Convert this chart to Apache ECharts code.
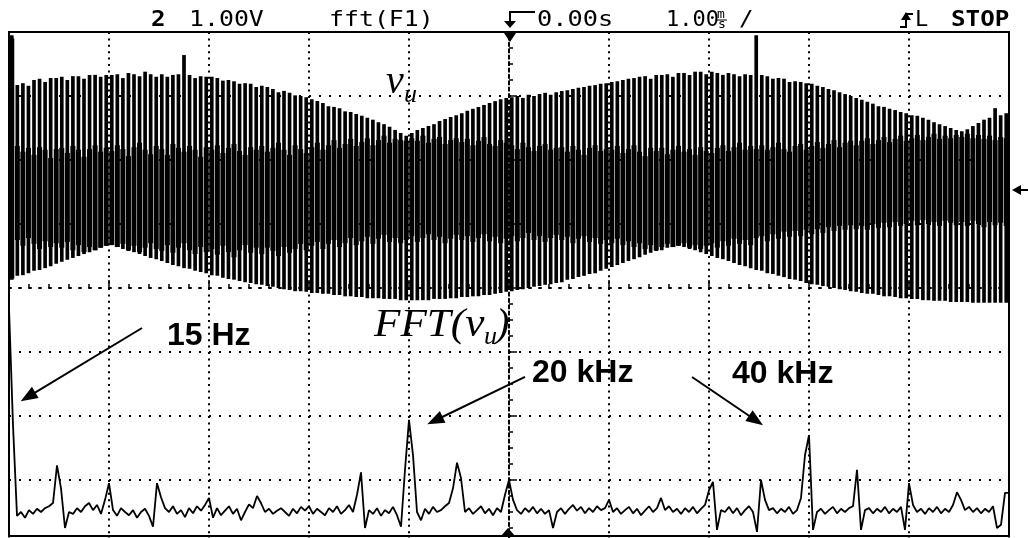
<!DOCTYPE html>
<html>
<head>
<meta charset="utf-8">
<script src="https://cdn.jsdelivr.net/npm/echarts@6/dist/echarts.min.js"></script>
<style>
  html, body { margin: 0; padding: 0; background: #fff; overflow: hidden; }
  #scope { width: 1028px; height: 546px; }
</style>
</head>
<body>
<div id="scope"></div>
<script>
// ---- Channel 2 trace (1.00 V/div, 1.00 ms/div): one stripe per PWM period ----
// upper tip of each stripe [V]
const vTop = [
  3.95, 3.17, 3.20, 3.16, 3.25, 3.27, 3.22, 3.28, 3.28,
  3.30, 3.25, 3.31, 3.31, 3.27, 3.33, 3.33, 3.30, 3.33,
  3.33, 3.34, 3.28, 3.36, 3.34, 3.31, 3.38, 3.34, 3.30,
  3.34, 3.30, 3.33, 3.34, 3.64, 3.33, 3.28, 3.31, 3.30,
  3.30, 3.28, 3.24, 3.25, 3.23, 3.19, 3.20, 3.19, 3.14,
  3.16, 3.14, 3.11, 3.06, 3.08, 3.05, 3.01, 3.00, 2.98,
  2.95, 2.92, 2.89, 2.84, 2.83, 2.81, 2.76, 2.75, 2.72,
  2.69, 2.66, 2.63, 2.59, 2.56, 2.52, 2.47, 2.42, 2.38,
  2.42, 2.47, 2.50, 2.53, 2.56, 2.61, 2.64, 2.67, 2.70,
  2.73, 2.77, 2.80, 2.83, 2.86, 2.89, 2.92, 2.95, 2.97,
  2.98, 3.00, 2.97, 3.02, 3.00, 3.03, 3.05, 3.02, 3.06,
  3.08, 3.09, 3.11, 3.13, 3.14, 3.16, 3.17, 3.19, 3.20,
  3.22, 3.23, 3.25, 3.27, 3.28, 3.30, 3.31, 3.27, 3.33,
  3.33, 3.34, 3.30, 3.36, 3.36, 3.33, 3.38, 3.38, 3.34,
  3.38, 3.36, 3.33, 3.36, 3.34, 3.31, 3.34, 3.33, 3.95,
  3.33, 3.31, 3.27, 3.28, 3.27, 3.22, 3.23, 3.22, 3.20,
  3.19, 3.16, 3.14, 3.11, 3.09, 3.06, 3.03, 3.00, 2.97,
  2.94, 2.91, 2.88, 2.84, 2.83, 2.80, 2.78, 2.75, 2.73,
  2.70, 2.69, 2.66, 2.63, 2.59, 2.56, 2.53, 2.50, 2.47,
  2.45, 2.48, 2.53, 2.58, 2.63, 2.66, 2.81, 2.70, 2.73
];
// lower tip of each stripe [V]
const vBot = [
  0.13, 0.19, 0.20, 0.23, 0.27, 0.28, 0.31, 0.34, 0.38,
  0.41, 0.44, 0.47, 0.50, 0.53, 0.56, 0.59, 0.63, 0.66,
  0.67, 0.64, 0.61, 0.58, 0.56, 0.53, 0.50, 0.47, 0.45,
  0.42, 0.39, 0.36, 0.34, 0.31, 0.30, 0.27, 0.25, 0.23,
  0.20, 0.19, 0.16, 0.14, 0.13, 0.11, 0.09, 0.08, 0.06,
  0.05, 0.03, 0.02, 0.00, -0.02, -0.03, -0.05, -0.05, -0.06,
  -0.08, -0.08, -0.09, -0.09, -0.11, -0.11, -0.13, -0.13, -0.14,
  -0.14, -0.16, -0.16, -0.16, -0.17, -0.17, -0.17, -0.19, -0.19,
  -0.19, -0.19, -0.19, -0.19, -0.17, -0.17, -0.17, -0.16, -0.16,
  -0.14, -0.14, -0.13, -0.13, -0.11, -0.11, -0.09, -0.08, -0.06,
  -0.05, -0.03, -0.02, 0.00, 0.02, 0.03, 0.05, 0.06, 0.08,
  0.09, 0.13, 0.14, 0.17, 0.19, 0.22, 0.23, 0.27, 0.30,
  0.33, 0.36, 0.39, 0.42, 0.45, 0.48, 0.52, 0.55, 0.58,
  0.59, 0.63, 0.64, 0.66, 0.64, 0.61, 0.59, 0.56, 0.53,
  0.50, 0.47, 0.45, 0.42, 0.39, 0.36, 0.34, 0.31, 0.28,
  0.27, 0.23, 0.22, 0.19, 0.17, 0.14, 0.13, 0.11, 0.08,
  0.06, 0.05, 0.03, 0.02, 0.00, -0.02, -0.03, -0.05, -0.06,
  -0.08, -0.09, -0.09, -0.11, -0.13, -0.13, -0.14, -0.16, -0.16,
  -0.17, -0.17, -0.19, -0.19, -0.20, -0.20, -0.20, -0.22, -0.22,
  -0.22, -0.22, -0.23, -0.23, -0.23, -0.23, -0.23, -0.23, -0.23
];
// upper edge of the dense (overlapping) part of each stripe [V]
const vBandHi = [
  3.90, 2.22, 2.13, 2.19, 2.08, 2.20, 2.16, 2.03, 2.17,
  2.19, 2.11, 2.22, 2.16, 2.05, 2.17, 2.23, 2.13, 2.19,
  2.14, 2.23, 2.17, 2.06, 2.20, 2.27, 2.16, 2.09, 2.22,
  2.17, 2.08, 2.25, 2.19, 2.13, 2.22, 2.16, 2.05, 2.20,
  2.16, 2.23, 2.11, 2.19, 2.25, 2.14, 2.08, 2.20, 2.16,
  2.22, 2.13, 2.19, 2.27, 2.16, 2.08, 2.23, 2.17, 2.11,
  2.20, 2.27, 2.16, 2.23, 2.31, 2.19, 2.25, 2.33, 2.22,
  2.28, 2.34, 2.23, 2.31, 2.38, 2.27, 2.33, 2.31, 2.30,
  2.34, 2.30, 2.38, 2.27, 2.33, 2.36, 2.25, 2.31, 2.34,
  2.28, 2.33, 2.23, 2.30, 2.36, 2.25, 2.22, 2.31, 2.27,
  2.23, 2.17, 2.27, 2.20, 2.14, 2.22, 2.25, 2.16, 2.19,
  2.20, 2.13, 2.22, 2.16, 2.08, 2.19, 2.23, 2.14, 2.17,
  2.16, 2.22, 2.11, 2.17, 2.23, 2.13, 2.06, 2.19, 2.14,
  2.19, 2.09, 2.16, 2.22, 2.13, 2.17, 2.08, 2.20, 2.14,
  2.11, 2.19, 2.23, 2.14, 2.20, 2.27, 2.16, 2.22, 2.17,
  2.23, 2.16, 2.20, 2.27, 2.17, 2.13, 2.22, 2.25, 2.16,
  2.22, 2.28, 2.19, 2.25, 2.31, 2.20, 2.27, 2.30, 2.23,
  2.30, 2.34, 2.25, 2.31, 2.36, 2.28, 2.33, 2.38, 2.30,
  2.34, 2.39, 2.31, 2.36, 2.41, 2.33, 2.38, 2.34, 2.39,
  2.36, 2.41, 2.34, 2.39, 2.33, 2.38, 2.31, 2.36, 2.34
];
// lower edge of the dense part of each stripe [V]
const vBandLo = [
  0.15, 0.75, 0.66, 0.78, 0.69, 0.61, 0.73, 0.64, 0.70,
  0.63, 0.72, 0.59, 0.67, 0.56, 0.64, 0.59, 0.63, 0.66,
  0.67, 0.64, 0.69, 0.59, 0.66, 0.56, 0.63, 0.70, 0.61,
  0.58, 0.67, 0.55, 0.63, 0.70, 0.59, 0.53, 0.64, 0.56,
  0.61, 0.52, 0.66, 0.56, 0.48, 0.59, 0.67, 0.55, 0.63,
  0.53, 0.63, 0.58, 0.50, 0.64, 0.55, 0.61, 0.69, 0.59,
  0.66, 0.72, 0.61, 0.69, 0.75, 0.64, 0.70, 0.78, 0.67,
  0.73, 0.80, 0.69, 0.77, 0.83, 0.72, 0.78, 0.70, 0.75,
  0.81, 0.72, 0.78, 0.84, 0.75, 0.80, 0.70, 0.77, 0.83,
  0.75, 0.81, 0.72, 0.78, 0.84, 0.73, 0.80, 0.70, 0.77,
  0.81, 0.73, 0.78, 0.86, 0.75, 0.81, 0.72, 0.78, 0.83,
  0.75, 0.80, 0.70, 0.77, 0.81, 0.72, 0.78, 0.69, 0.75,
  0.70, 0.77, 0.67, 0.73, 0.64, 0.70, 0.61, 0.67, 0.59,
  0.64, 0.69, 0.64, 0.66, 0.70, 0.63, 0.67, 0.61, 0.66,
  0.70, 0.63, 0.73, 0.66, 0.77, 0.69, 0.75, 0.67, 0.78,
  0.81, 0.73, 0.84, 0.77, 0.88, 0.80, 0.89, 0.81, 0.91,
  0.84, 0.92, 0.86, 0.95, 0.89, 0.97, 0.91, 0.98, 0.92,
  0.97, 0.91, 1.00, 0.94, 1.02, 0.95, 1.03, 0.97, 1.00,
  1.05, 0.98, 1.06, 1.00, 1.03, 0.97, 1.05, 1.02, 0.98,
  1.03, 0.97, 1.05, 1.00, 0.95, 1.03, 0.98, 1.02, 0.97
];

// ---- fft(F1): magnitude per 0.2 kHz bin, 0 ... 50 kHz [dB, 10 dB/div] ----
const fftBinKHz = 0.2;
const fftDb = [
  -3.1, -21.4, -35.6, -35.0, -35.9, -34.7, -35.3, -34.5, -35.0, -34.4,
  -34.1, -33.6, -27.7, -31.3, -37.5, -35.0, -35.3, -34.4, -35.0, -34.1,
  -33.6, -34.7, -33.9, -35.3, -33.1, -30.5, -34.7, -35.6, -34.4, -35.0,
  -35.5, -34.7, -35.9, -35.0, -34.5, -35.6, -37.3, -30.5, -32.7, -34.4,
  -35.0, -34.1, -35.3, -34.7, -35.8, -34.4, -35.2, -34.1, -34.8, -33.9,
  -32.8, -35.9, -34.4, -35.5, -34.8, -34.1, -35.3, -34.5, -36.3, -35.0,
  -33.8, -34.4, -32.5, -33.6, -35.0, -34.5, -35.3, -34.8, -34.4, -35.0,
  -35.6, -34.5, -35.2, -34.2, -34.8, -34.1, -35.3, -34.5, -35.0, -35.5,
  -34.4, -35.0, -34.1, -35.3, -34.7, -33.9, -35.0, -32.3, -28.8, -37.5,
  -34.7, -35.3, -34.4, -35.6, -34.7, -35.2, -34.2, -35.5, -37.3, -28.4,
  -20.6, -26.1, -35.0, -36.3, -34.5, -35.3, -34.2, -35.0, -34.7, -34.1,
  -33.6, -31.3, -27.3, -29.7, -35.0, -34.4, -35.3, -34.7, -34.1, -35.2,
  -34.5, -35.5, -34.4, -35.0, -32.3, -30.0, -33.1, -34.7, -35.3, -34.4,
  -35.0, -34.2, -35.2, -34.5, -35.3, -34.7, -37.5, -35.0, -34.4, -35.3,
  -34.5, -33.9, -34.8, -34.2, -35.2, -34.4, -35.0, -34.1, -34.7, -34.4,
  -33.1, -35.0, -34.4, -35.3, -34.7, -34.2, -35.2, -34.5, -35.5, -34.8,
  -34.1, -35.0, -34.4, -32.8, -34.7, -34.1, -35.0, -34.5, -35.3, -34.4,
  -35.0, -34.2, -35.2, -34.5, -33.9, -31.6, -30.3, -37.8, -34.7, -35.0,
  -34.2, -35.2, -34.4, -35.5, -34.7, -34.1, -35.0, -38.1, -30.0, -33.1,
  -34.7, -34.4, -35.2, -34.5, -35.0, -34.2, -35.3, -34.7, -32.8, -26.1,
  -23.0, -37.8, -35.0, -34.5, -35.3, -34.7, -34.2, -35.2, -34.5, -35.0,
  -34.4, -34.1, -28.4, -37.8, -34.7, -34.4, -35.2, -34.5, -35.0, -34.2,
  -35.2, -34.5, -35.0, -34.2, -37.8, -30.5, -33.9, -35.0, -34.5, -35.3,
  -34.4, -35.0, -34.2, -35.2, -34.5, -35.0, -33.9, -31.9, -33.1, -34.7,
  -34.2, -35.0, -34.4, -35.2, -34.5, -35.0, -34.1, -37.5, -37.0, -32.0,
  -32.0
];

// callout arrows on the spectrum: [kHz, dB] from tail to head
const callouts = [
  { from: [6.65, -6.25], to: [0.95, -17.0] },   // 15 Hz
  { from: [25.8, -13.9], to: [21.3, -20.7] },   // 20 kHz
  { from: [34.15, -13.9], to: [37.35, -20.7] }  // 40 kHz
];

// [slot, band low, band high, stripe bottom, stripe top]
const stripes = vTop.map((t, i) => [i, vBandLo[i], vBandHi[i], vBot[i], t]);
const stripeIdx = vTop.map((_, i) => i);
const spectrum = fftDb.map((d, i) => [+(i * fftBinKHz).toFixed(1), d]);

const INK = '#000';
const MONO = '"DejaVu Sans Mono", monospace';
const SERIF = '"Liberation Serif", "Times New Roman", serif';
const SANS = '"Liberation Sans", Arial, sans-serif';

function txt(text, x, y, o) {
  o = o || {};
  return {
    type: 'text', x: x, y: y, z: 200,
    scaleX: o.sx || 1, scaleY: o.sy || 1,
    style: {
      text: text, x: 0, y: 0,
      fontFamily: o.family || MONO,
      fontSize: o.size || 22,
      fontWeight: o.weight || 'normal',
      fontStyle: o.style || 'normal',
      fill: INK,
      textAlign: 'left', align: 'left',
      textVerticalAlign: 'middle', verticalAlign: 'middle'
    }
  };
}

// one PWM stripe: full-height line plus a wider dense core
function renderStripe(params, api) {
  const slot = api.value(0);
  const top = api.coord([slot, api.value(4)]);
  const bot = api.coord([slot, api.value(3)]);
  const hi = api.coord([slot, api.value(2)]);
  const lo = api.coord([slot, api.value(1)]);
  const band = api.size([1, 0])[0];
  const thin = band * 0.66;
  const core = band * 0.9;
  return {
    type: 'group',
    children: [
      { type: 'rect', shape: { x: top[0] - thin / 2, y: top[1], width: thin, height: bot[1] - top[1] },
        style: { fill: INK } },
      { type: 'rect', shape: { x: hi[0] - core / 2, y: hi[1], width: core, height: lo[1] - hi[1] },
        style: { fill: INK } }
    ]
  };
}

const chart = echarts.init(document.getElementById('scope'), null, { renderer: 'canvas' });

const dotted = (gap) => ({ color: INK, width: 2, type: [2, gap] });
const tickLine = { color: INK, width: 1.5 };

chart.setOption({
  animation: false,
  backgroundColor: '#fff',
  grid: { left: 9, top: 32, width: 1000, height: 512, show: false },
  xAxis: [
    { // time, ms: center ruler with ticks above + vertical graticule
      type: 'value', min: -5, max: 5, interval: 1,
      axisLine: { show: true, onZero: true, onZeroAxisIndex: 0, lineStyle: dotted(8) },
      axisTick: { show: true, inside: true, length: 8, lineStyle: tickLine },
      minorTick: { show: true, splitNumber: 5, length: 4, lineStyle: tickLine },
      axisLabel: { show: false },
      splitLine: { show: true, lineStyle: dotted(4.4) }
    },
    { // same ruler, ticks below the line
      type: 'value', min: -5, max: 5, interval: 1,
      axisLine: { show: false, onZero: true, onZeroAxisIndex: 0 },
      axisTick: { show: true, inside: false, length: 8, lineStyle: tickLine },
      minorTick: { show: true, splitNumber: 5, length: 4, lineStyle: tickLine },
      axisLabel: { show: false },
      splitLine: { show: false }
    },
    { // fft frequency, kHz
      type: 'value', min: 0, max: 50, show: false
    },
    { // stripe slots
      type: 'category', data: stripeIdx, boundaryGap: true, show: false
    }
  ],
  yAxis: [
    { // volts: center ruler with ticks right + horizontal graticule
      type: 'value', min: -4, max: 4, interval: 1,
      axisLine: { show: true, onZero: true, onZeroAxisIndex: 0, lineStyle: dotted(4.4) },
      axisTick: { show: true, inside: true, length: 8, lineStyle: tickLine },
      minorTick: { show: true, splitNumber: 4, length: 4, lineStyle: tickLine },
      axisLabel: { show: false },
      splitLine: { show: true, lineStyle: dotted(8) }
    },
    {
      type: 'value', min: -4, max: 4, interval: 1,
      axisLine: { show: false, onZero: true, onZeroAxisIndex: 0 },
      axisTick: { show: true, inside: false, length: 8, lineStyle: tickLine },
      minorTick: { show: true, splitNumber: 4, length: 4, lineStyle: tickLine },
      axisLabel: { show: false },
      splitLine: { show: false }
    },
    { // fft magnitude, dB
      type: 'value', min: -40, max: 40, show: false
    }
  ],
  series: [
    {
      name: 'v_u',
      type: 'custom',
      xAxisIndex: 3, yAxisIndex: 0,
      data: stripes,
      encode: { x: 0, y: [1, 2, 3, 4] },
      renderItem: renderStripe,
      silent: true
    },
    {
      name: 'FFT(v_u)',
      type: 'line',
      xAxisIndex: 2, yAxisIndex: 2,
      data: spectrum,
      showSymbol: false,
      lineStyle: { color: INK, width: 1.8 },
      silent: true,
      z: 5,
      markLine: {
        silent: true,
        symbol: ['none', 'triangle'],
        symbolSize: [13, 17],
        lineStyle: { color: INK, width: 2, type: 'solid' },
        label: { show: false },
        emphasis: { disabled: true },
        data: callouts.map(c => [{ coord: c.from }, { coord: c.to }])
      }
    }
  ],
  graphic: [
    // screen frame
    { type: 'rect', z: 150, shape: { x: 9, y: 32, width: 1000, height: 504 },
      style: { fill: 'transparent', stroke: INK, lineWidth: 2 } },
    // trigger position markers
    { type: 'polygon', z: 150, shape: { points: [[504, 33], [516, 33], [510, 42]] }, style: { fill: INK } },
    { type: 'polygon', z: 150, shape: { points: [[500, 537], [516, 537], [508, 528]] }, style: { fill: INK } },
    // channel ground marker on the right edge
    { type: 'polygon', z: 150, shape: { points: [[1012, 190], [1021, 185], [1021, 195]] }, style: { fill: INK } },
    { type: 'polyline', z: 150, shape: { points: [[1018, 190], [1028, 190]] }, style: { stroke: INK, lineWidth: 2 } },
    // status line
    txt('2', 151, 20, { weight: 'bold', sx: 1.1 }),
    txt('1.00V', 189, 20, { sx: 1.13 }),
    txt('fft(F1)', 329, 20, { sx: 1.13 }),
    { type: 'polyline', z: 150, shape: { points: [[535, 12], [510, 12], [510, 24]] }, style: { stroke: INK, lineWidth: 2 } },
    { type: 'polygon', z: 150, shape: { points: [[504, 21], [516, 21], [510, 28]] }, style: { fill: INK } },
    txt('0.00s', 537, 20, { sx: 1.15 }),
    txt('1.00', 666, 20, { sx: 1.0 }),
    txt('m', 717, 15, { size: 13, sx: 1.0 }),
    txt('s', 718, 25, { size: 13, sx: 1.0 }),
    { type: 'polyline', z: 150, shape: { points: [[717, 20], [727, 20]] }, style: { stroke: INK, lineWidth: 1 } },
    txt('/', 739, 20, { sx: 1.1 }),
    { type: 'polyline', z: 150, shape: { points: [[900, 27], [906, 27], [906, 14], [913, 14]] }, style: { stroke: INK, lineWidth: 2 } },
    { type: 'polygon', z: 150, shape: { points: [[901, 20], [911, 20], [906, 12]] }, style: { fill: INK } },
    txt('L', 915, 20, { sx: 1.0 }),
    txt('STOP', 951, 20, { weight: 'bold', sx: 1.1 }),
    // trace names
    txt('v', 386, 82, { family: SERIF, size: 40, style: 'italic' }),
    txt('u', 404, 95, { family: SERIF, size: 26, style: 'italic' }),
    txt('FFT(v', 374, 325, { family: SERIF, size: 40, style: 'italic', sx: 1.08 }),
    txt('u', 484, 337, { family: SERIF, size: 26, style: 'italic' }),
    txt(')', 496, 325, { family: SERIF, size: 40, style: 'italic' }),
    // spectral line callouts
    txt('15 Hz', 167, 336, { family: SANS, size: 32, weight: 'bold' }),
    txt('20 kHz', 532, 373, { family: SANS, size: 32, weight: 'bold' }),
    txt('40 kHz', 732, 374, { family: SANS, size: 32, weight: 'bold' })
  ]
});
</script>
</body>
</html>
